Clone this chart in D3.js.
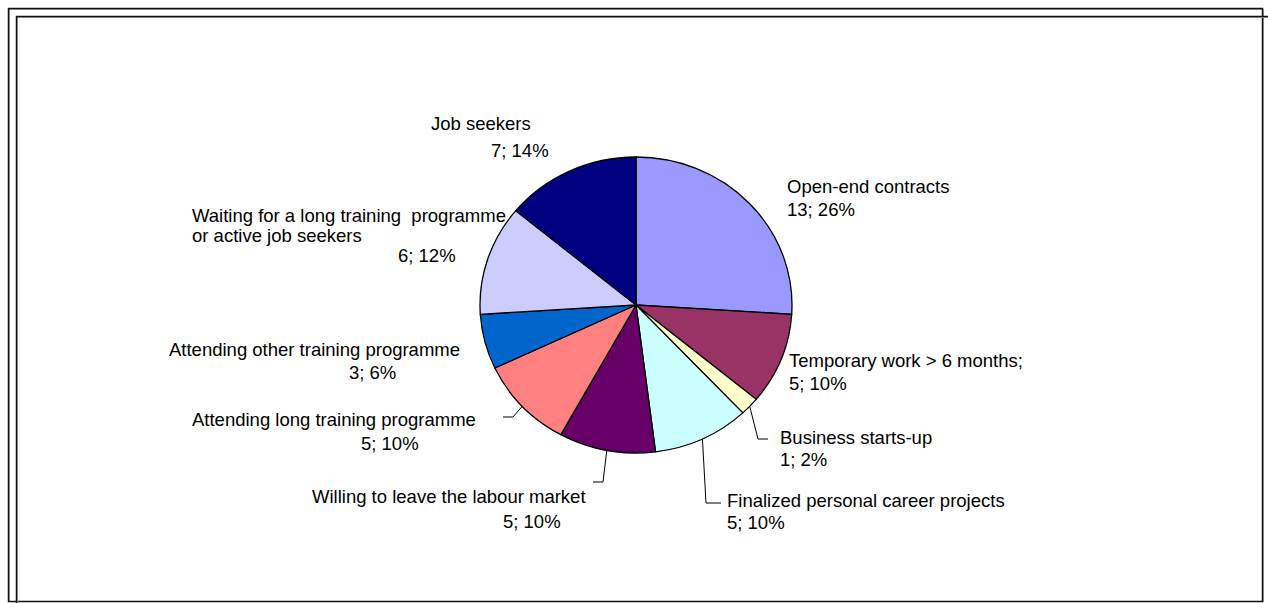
<!DOCTYPE html>
<html>
<head>
<meta charset="utf-8">
<script src="https://cdn.jsdelivr.net/npm/d3@7"></script>
<style>
  html, body { margin: 0; padding: 0; background: #fff; overflow: hidden; }
  svg { display: block; font-family: 'Liberation Sans', Arial, sans-serif; }
</style>
</head>
<body>
<div id="root"></div>
<script>
// slices, clockwise from 12 o'clock
const categories = [
  'Open-end contracts',
  'Temporary work > 6 months;',
  'Business starts-up',
  'Finalized personal career projects',
  'Willing to leave the labour market',
  'Attending long training programme',
  'Attending other training programme',
  'Waiting for a long training  programme\nor active job seekers',
  'Job seekers',
];
const values = [13, 5, 1, 5, 5, 5, 3, 6, 7];
const colors = ['#9999FF', '#993366', '#FFFFCC', '#CCFFFF', '#660066', '#FF8080', '#0066CC', '#CCCCFF', '#000080'];

// where Excel put each label: x of each line, baseline of first line, line step
const labelLayout = [
  { xs: [787, 787], y: 193, dy: 23 },
  { xs: [789, 789], y: 367, dy: 23 },
  { xs: [780, 780], y: 444, dy: 22 },
  { xs: [727, 727], y: 507, dy: 22 },
  { xs: [312, 503], y: 503, dy: 25 },
  { xs: [192, 361], y: 426, dy: 24 },
  { xs: [169, 349], y: 356, dy: 23 },
  { xs: [192, 192, 398], y: 222, dy: 20 },
  { xs: [431, 491], y: 130, dy: 27 },
];
// leader lines: elbow point and end x
const leaders = [null, null,
  { elbow: [758, 439], endX: 768 },
  { elbow: [706, 503], endX: 721 },
  { elbow: [603, 482], endX: 593 },
  { elbow: [513, 417], endX: 503 },
  null, null, null];

const width = 1268;
const height = 603;
const cx = 636;
const cy = 305;
const rx = 156;
const ry = 148;

const total = d3.sum(values);
const data = values.map((v, i) => ({
  name: categories[i],
  value: v,
  color: colors[i],
  pct: Math.round(v / total * 100),
}));

const svg = d3.select('#root').append('svg')
  .attr('width', width)
  .attr('height', height);

// frames
svg.append('rect')
  .attr('x', 9.5).attr('y', 9.5).attr('width', 1254).attr('height', 592)
  .attr('fill', 'none').attr('stroke', '#aaa').attr('stroke-width', 1);
svg.append('rect')
  .attr('x', 8.5).attr('y', 8.5).attr('width', 1254).attr('height', 593)
  .attr('fill', 'none').attr('stroke', '#111').attr('stroke-width', 1.5);
svg.append('rect')
  .attr('x', 17.5).attr('y', 17.5).attr('width', 1270).attr('height', 600)
  .attr('fill', 'none').attr('stroke', '#aaa').attr('stroke-width', 1);
svg.append('rect')
  .attr('x', 16.5).attr('y', 16.5).attr('width', 1270).attr('height', 600)
  .attr('fill', 'none').attr('stroke', '#111').attr('stroke-width', 1.5);

const pie = d3.pie().sort(null).value(d => d.value);
const arcs = pie(data);

const arc = d3.arc().innerRadius(0).outerRadius(ry);

svg.append('g')
  .attr('transform', `translate(${cx},${cy}) scale(${rx / ry},1)`)
  .selectAll('path')
  .data(arcs)
  .join('path')
  .attr('d', arc)
  .attr('fill', d => d.data.color)
  .attr('stroke', '#000')
  .attr('stroke-width', 1.3)
  .attr('vector-effect', 'non-scaling-stroke');

// point on the ellipse edge at slice mid angle
const edgePoint = d => {
  const a = (d.startAngle + d.endAngle) / 2;
  return [cx + rx * Math.sin(a), cy - ry * Math.cos(a)];
};

arcs.forEach((d, i) => {
  const lead = leaders[i];
  if (!lead) return;
  const p = edgePoint(d);
  svg.append('path')
    .attr('d', d3.line()([p, lead.elbow, [lead.endX, lead.elbow[1]]]))
    .attr('fill', 'none')
    .attr('stroke', '#000')
    .attr('stroke-width', 1);
});

arcs.forEach((d, i) => {
  const lay = labelLayout[i];
  const lines = [...d.data.name.split('\n'), `${d.data.value}; ${d.data.pct}%`];
  const t = svg.append('text')
    .attr('font-size', 18.5)
    .attr('fill', '#000');
  lines.forEach((line, k) => {
    t.append('tspan')
      .attr('x', lay.xs[k])
      .attr('y', lay.y + k * lay.dy)
      .attr('xml:space', 'preserve')
      .style('white-space', 'pre')
      .text(line);
  });
});
</script>
</body>
</html>
